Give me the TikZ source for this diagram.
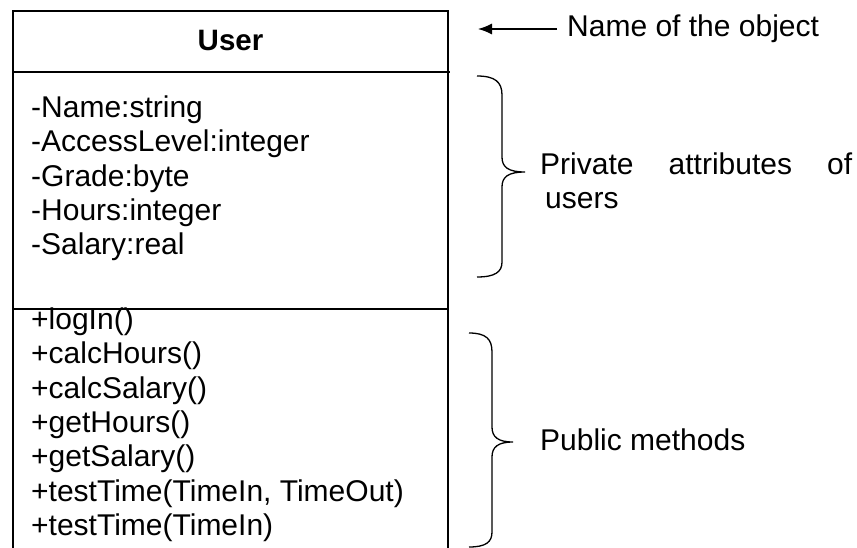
\documentclass[tikz,border=0pt]{standalone}
\usepackage{fontspec}
\setmainfont{Liberation Sans}
\usetikzlibrary{arrows.meta}
\tikzset{
  txt/.style={anchor=base west, inner sep=0pt, font=\fontsize{30}{34.3}\selectfont},
  boxline/.style={line width=1.6pt, black},
  brace/.style={line width=1.3pt, black},
}
\begin{document}
\begin{tikzpicture}[x=1pt,y=-1pt]
\useasboundingbox (0,0) rectangle (857,548);
% class box
\draw[boxline] (13,548) -- (13,11) -- (448,11) -- (448,548);
\draw[boxline] (13,72) -- (450,72);
\draw[boxline] (12,309) -- (448,309);
\node[txt, anchor=base, font=\fontsize{29.5}{34.3}\selectfont\bfseries] (title) at (230.5,51) {User};
% attributes
\node[txt] (a1) at (31,117.5) {-Name:string};
\node[txt] (a2) at (31,151.8) {-AccessLevel:integer};
\node[txt] (a3) at (31,186.1) {-Grade:byte};
\node[txt] (a4) at (31,220.4) {-Hours:integer};
\node[txt] (a5) at (31,254.7) {-Salary:real};
% methods
\node[txt] (m1) at (31,329.5) {+logIn()};
\node[txt] (m2) at (31,363.8) {+calcHours()};
\node[txt] (m3) at (31,398.1) {+calcSalary()};
\node[txt] (m4) at (31,432.4) {+getHours()};
\node[txt] (m5) at (31,466.7) {+getSalary()};
\node[txt] (m6) at (31,501) {+testTime(TimeIn, TimeOut)};
\node[txt] (m7) at (31,535.3) {+testTime(TimeIn)};
% name annotation
\node[txt] (nameobj) at (567,37) {Name of the object};
\coordinate (arrstart) at (557,29);
\coordinate (arrtip) at (478,29);
\draw[brace, -{Latex[length=14pt,width=11pt]}] (arrstart) -- (arrtip);
% private brace
\draw[brace] (477,76) .. controls (495,76) and (502,82) .. (502,95)
  -- (502,157) .. controls (502,167) and (508,172) .. (525,172)
  .. controls (508,172) and (502,177) .. (502,187)
  -- (502,262) .. controls (502,272) and (495,277) .. (477,277);
\node[txt] (priv) at (540,175) {\makebox[312pt][s]{Private attributes of}};
\node[txt] (privusers) at (545,209) {users};
% public brace
\draw[brace] (469,333) .. controls (486,333) and (492,339) .. (492,352)
  -- (492,427) .. controls (492,437) and (498,442) .. (513,442)
  .. controls (498,442) and (492,447) .. (492,457)
  -- (492,532) .. controls (492,542) and (486,547) .. (469,547);
\node[txt] (pub) at (540,450) {Public methods};
\end{tikzpicture}
\end{document}
